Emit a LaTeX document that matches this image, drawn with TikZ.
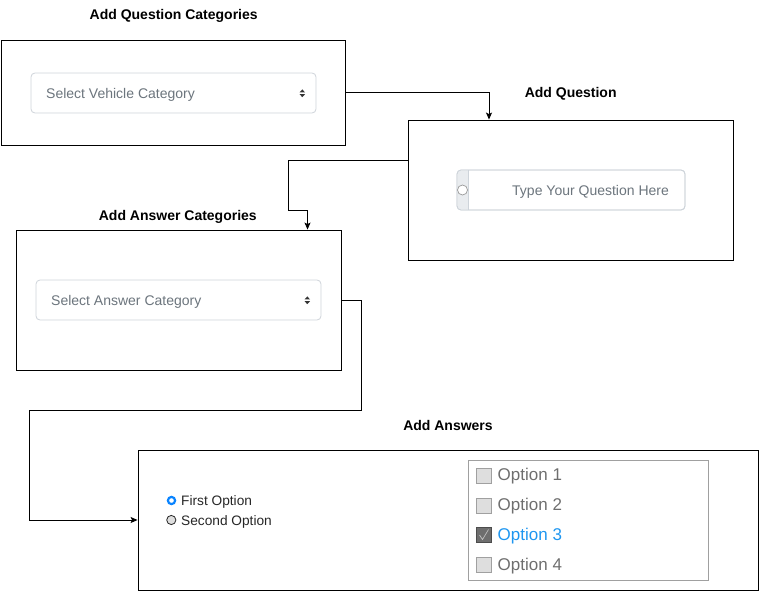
\documentclass[tikz,border=0pt]{standalone}
\usepackage{fontspec}
\setmainfont{Liberation Sans}
\usetikzlibrary{arrows.meta}
\definecolor{bordergray}{HTML}{CED4DA}
\definecolor{textgray}{HTML}{6C757D}
\definecolor{addongray}{HTML}{E9ECEF}
\definecolor{radioblue}{HTML}{0A84FF}
\definecolor{optgray}{HTML}{6E6E6E}
\definecolor{optblue}{HTML}{1E96F0}
\definecolor{panelgray}{HTML}{A0A0A0}
\definecolor{boxfill}{HTML}{DEDEDE}
\definecolor{boxdark}{HTML}{6E6E6E}
\begin{document}
\begin{tikzpicture}[x=1pt,y=-1pt,
  panel/.style={draw=black,line width=0.9pt,inner sep=0pt},
  title/.style={font=\bfseries\fontsize{14}{16}\selectfont,anchor=base,inner sep=0pt},
  field/.style={draw=bordergray,rounded corners=4pt,line width=0.8pt,fill=white,inner sep=0pt},
  fieldtext/.style={font=\fontsize{14}{16}\selectfont,text=textgray,anchor=base west,inner sep=0pt},
  opttext/.style={font=\fontsize{17}{19}\selectfont,text=optgray,anchor=base west,inner sep=0pt},
  radiotext/.style={font=\fontsize{13.7}{16}\selectfont,text=black!85,anchor=base west,inner sep=0pt},
  chk/.style={draw=panelgray,fill=boxfill,line width=0.7pt,minimum width=15pt,minimum height=15pt,inner sep=0pt},
  conn/.style={draw=black,line width=0.9pt,-{Stealth[length=7pt,width=6pt,inset=1.5pt]}},
  updown/.style={fill=black!80,draw=none}]
\useasboundingbox (0,0) rectangle (759,591);

% ---------- Box 1 ----------
\node[title] (t1) at (173.7,20) {Add Question Categories};
\node[panel,minimum width=344pt,minimum height=105pt] (b1) at (173.7,92.5) {};
\node[field,minimum width=285pt,minimum height=40pt] (d1) at (173.5,93) {};
\node[fieldtext] (d1t) at (46,98.5) {Select Vehicle Category};
\fill[updown] (299.6,92.4) -- (305,92.4) -- (302.3,89.4) -- cycle;
\fill[updown] (299.6,94.2) -- (305,94.2) -- (302.3,97.2) -- cycle;

% ---------- Box 2 ----------
\node[title] (t2) at (570.7,98) {Add Question};
\node[panel,minimum width=325pt,minimum height=140pt] (b2) at (571,190) {};
\node[field,minimum width=228pt,minimum height=40pt] (q) at (571,190) {};
\fill[addongray,rounded corners=4pt] (457.4,170.4) rectangle (472,209.6);
\fill[addongray] (466,170.4) rectangle (468.3,209.6);
\fill[white] (468.3,170.8) rectangle (474,209.2);
\draw[bordergray,line width=0.8pt] (468.3,170.4) -- (468.3,209.6);
\draw[bordergray,rounded corners=4pt,line width=0.8pt] (457,170) rectangle (685,210);
\node[draw=black!40,fill=white,circle,line width=0.7pt,minimum size=10pt,inner sep=0pt] (qc) at (462.5,190) {};
\node[fieldtext] (qt) at (512,195.5) {Type Your Question Here};

% ---------- Box 3 ----------
\node[title] (t3) at (177.8,220.5) {Add Answer Categories};
\node[panel,minimum width=325pt,minimum height=140pt] (b3) at (178.5,300) {};
\node[field,minimum width=285pt,minimum height=40pt] (d3) at (178.5,300) {};
\node[fieldtext] (d3t) at (51,305.5) {Select Answer Category};
\fill[updown] (304.6,299.4) -- (310,299.4) -- (307.3,296.4) -- cycle;
\fill[updown] (304.6,301.2) -- (310,301.2) -- (307.3,304.2) -- cycle;

% ---------- Box 4 ----------
\node[title] (t4) at (448,430) {Add Answers};
\node[panel,minimum width=620pt,minimum height=140pt] (b4) at (448,520) {};
% radios
\draw[radioblue,line width=2.2pt,fill=white] (171.5,500.5) circle (3.6);
\node[radiotext] (r1) at (181,505) {First Option};
\draw[black!85,line width=0.8pt,fill=boxfill] (171.3,520) circle (4.6);
\node[radiotext] (r2) at (181,525) {Second Option};
% checkbox panel
\node[draw=panelgray,line width=0.8pt,minimum width=240pt,minimum height=120pt,inner sep=0pt] (cp) at (588.5,520.5) {};
\node[chk] (c1) at (484,475.5) {};
\node[opttext] (o1) at (497.5,480.3) {Option 1};
\node[chk] (c2) at (484,505.5) {};
\node[opttext] (o2) at (497.5,510.5) {Option 2};
\node[chk,fill=boxdark,draw=black!70] (c3) at (484,535) {};
\draw[black!25,line width=0.7pt] (479.5,535) -- (482.5,539.5) -- (488.5,529.5);
\node[opttext,text=optblue] (o3) at (497.5,540.3) {Option 3};
\node[chk] (c4) at (484,565) {};
\node[opttext] (o4) at (497.5,570.3) {Option 4};

% ---------- Connectors ----------
\draw[conn] (b1.east) -| ([xshift=-82pt]b2.north);
\draw[conn] ([yshift=30pt]b2.west) -| (288.5,210) -| ([xshift=129pt]b3.north);
\draw[conn] (b3.east) -| (361,410.5) -| (29,520) -- (b4.west);
\end{tikzpicture}
\end{document}
